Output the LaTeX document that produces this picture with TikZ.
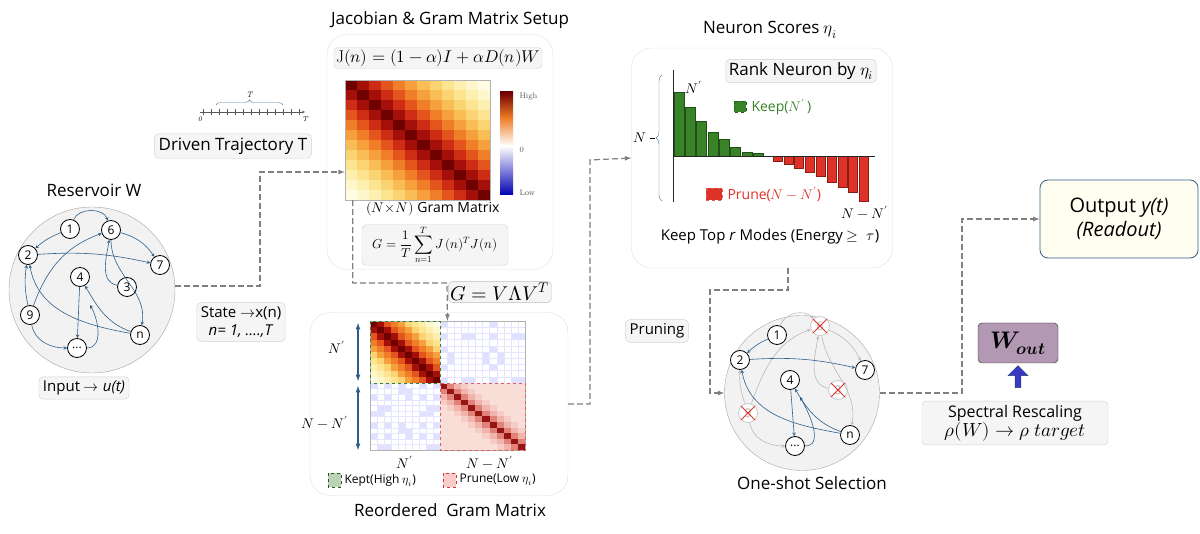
\documentclass[tikz,border=0pt]{standalone}
\usepackage{amsmath}
\usepackage{fontspec}
\usepackage{unicode-math}
\setmathfont{Latin Modern Math}
\setsansfont{Open Sans}
\renewcommand{\familydefault}{\sfdefault}
\usetikzlibrary{positioning,decorations.pathreplacing,shapes.arrows}
\definecolor{synblue}{RGB}{46,95,138}
\definecolor{keepgreen}{RGB}{56,130,40}
\definecolor{prunered}{RGB}{222,50,40}
\definecolor{hm0}{RGB}{110,0,0}
\definecolor{hm1}{RGB}{165,15,10}
\definecolor{hm2}{RGB}{205,45,20}
\definecolor{hm3}{RGB}{228,85,30}
\definecolor{hm4}{RGB}{240,125,40}
\definecolor{hm5}{RGB}{245,160,60}
\definecolor{hm6}{RGB}{248,190,85}
\definecolor{hm7}{RGB}{250,212,115}
\definecolor{hm8}{RGB}{252,228,145}
\definecolor{hm9}{RGB}{253,239,175}
\definecolor{hm10}{RGB}{254,246,205}
\definecolor{hm11}{RGB}{255,251,228}
\definecolor{pk0}{RGB}{150,20,20}
\definecolor{pk1}{RGB}{225,130,120}
\definecolor{pk2}{RGB}{240,180,172}
\definecolor{pk3}{RGB}{246,205,198}
\definecolor{pk4}{RGB}{249,222,216}
\tikzset{
  panel/.style={draw=gray!25,rounded corners=20pt,fill=white},
  tag/.style={draw=gray!35,fill=gray!8,rounded corners=4pt,inner sep=4pt,align=center},
  title/.style={font=\fontsize{17}{20}\selectfont},
  neuron/.style={circle,draw,fill=white,thick,inner sep=0pt,minimum size=19pt,font=\fontsize{12}{12}\selectfont},
  gone/.style={neuron,draw=gray!40,text=gray!60},
  syn/.style={->,>=stealth,draw=synblue,semithick},
  dead/.style={->,>=stealth,draw=gray!55,semithick},
  flow/.style={->,>=latex,draw=gray,dashed,very thick,dash pattern=on 6pt off 3pt},
  lbl/.style={font=\rmfamily\itshape\fontsize{14}{14}\selectfont},
}
\newcommand{\crossout}[1]{\draw[prunered,thick] ([shift={(-7pt,-7pt)}]#1.center) -- ([shift={(7pt,7pt)}]#1.center)
  ([shift={(-7pt,7pt)}]#1.center) -- ([shift={(7pt,-7pt)}]#1.center);}
\begin{document}
\begin{tikzpicture}[x=1pt,y=-1pt]
\useasboundingbox (0,0) rectangle (1200,534);

% ---- reservoir
\node[title] at (94,190) {Reservoir W};
\node (res) [circle,draw=gray!70,fill=gray!10,minimum size=166pt] at (92,290) {};
\node (r1) [neuron] at (70,229) {1};
\node (r6) [neuron] at (111,230) {6};
\node (r2) [neuron] at (28,255) {2};
\node (r7) [neuron] at (160,265) {7};
\node (r4) [neuron] at (80,277) {4};
\node (r3) [neuron] at (127,287) {3};
\node (r9) [neuron] at (30,315) {9};
\node (rn) [neuron] at (140,335) {n};
\node (rd) [neuron] at (77,348) {...};
\draw[syn] (r1) to[bend left=70] (r6);
\draw[syn] (r1) to[bend right=10] (r2);
\draw[syn] (r6) to[bend left=20] (r7);
\draw[syn] (r2) to[bend left=8] (r7);
\draw[syn] (r9) to[bend left=10] (r2);
\draw[syn] (r9) to[out=70,in=200] (r6);
\draw[syn] (r3) to[out=170,in=260] (r6);
\draw[syn] (r6) to[out=270,in=80] (rn);
\draw[syn] (rn) to[out=160,in=300] (r4);
\draw[syn] (rn) to[out=170,in=280] (r2);
\draw[syn] (r4) -- (rd);
\draw[syn] (r9) to[out=280,in=180] (rd);
\draw[syn] (rd.east) to[out=0,in=300] (90,305);
\node[tag,font=\fontsize{15}{18}\selectfont] at (84,388) {Input $\rightarrow$ \textit{u(t)}};
\node[tag,font=\fontsize{15}{18}\selectfont] at (241,322) {State $\rightarrow$x(n)\\\textit{n= 1, \dots.,T}};

% ---- driven trajectory
\draw[->,>=stealth,gray!70!black,thin] (200,112) coordinate (t0) -- (305,112) coordinate (tT);
\foreach \k in {0,...,12} \draw[gray!70!black,thin] (203+\k*8,109) -- (203+\k*8,115);
\draw[decorate,decoration={brace,amplitude=5pt},synblue!80,thin] (216,105) -- (283,105) node[midway,above=4pt,lbl,font=\rmfamily\itshape\fontsize{8}{8}\selectfont,black] {T};
\node[below=1pt of t0,font=\rmfamily\itshape\fontsize{7}{7}\selectfont] {0};
\node[below=1pt of tT,font=\rmfamily\itshape\fontsize{7}{7}\selectfont] {T};
\node[tag,title] at (233,146) {Driven Trajectory T};

% ---- jacobian panel
\node[title] at (450,20) {Jacobian \& Gram Matrix Setup};
\node (jac) [panel,minimum width=226pt,minimum height=235pt] at (440,152) {};
\node[tag,minimum width=197pt,font=\fontsize{17}{19}\selectfont,inner sep=2pt] at (438,58) {$\mathrm{J}(n)=(1-\alpha)I+\alpha D(n)W$};
\foreach \i in {0,...,11} \foreach \j in {0,...,11} {
  \pgfmathtruncatemacro\d{abs(\i-\j)}
  \fill[hm\d] (345+\i*12.08,80+\j*10) rectangle ++(12.08,10);
}
\node (heat) [draw=gray!60,minimum width=145pt,minimum height=120pt,inner sep=0pt] at (417.5,140) {};
\shade[top color=hm0,bottom color=hm4] (500,92) rectangle (513,118);
\shade[top color=hm4,bottom color=white] (500,118) rectangle (513,146);
\shade[top color=white,bottom color=blue!70!black] (500,146) rectangle (513,195);
\node[anchor=west,font=\rmfamily\fontsize{8}{8}\selectfont,gray!70!black] at (516,97) {High};
\node[anchor=west,font=\rmfamily\fontsize{8}{8}\selectfont,gray!70!black] at (516,150) {0};
\node[anchor=west,font=\rmfamily\fontsize{8}{8}\selectfont,gray!70!black] at (516,193) {Low};
\node[font=\fontsize{14}{15}\selectfont] at (433,209) {$(N{\times}N)$ Gram Matrix};
\node[tag,minimum width=146pt,font=\fontsize{13}{14}\selectfont,inner sep=1pt] at (435,245) {$G=\dfrac{1}{T}\displaystyle\sum_{n=1}^{T}J\,(n)^{T}J(n)$};
\node[tag,font=\fontsize{20}{22}\selectfont,inner sep=2pt,draw=gray!50] at (500,292) {$G=V\Lambda V^{T}$};

% ---- reordered gram matrix
\node (reop) [panel,minimum width=258pt,minimum height=183pt] at (439,404) {};
\foreach \i in {0,...,9} \foreach \j in {0,...,9} {
  \pgfmathtruncatemacro\d{min(11,round(abs(\i-\j)*1.3))}
  \fill[hm\d] (370+\i*7,321+\j*6.2) rectangle ++(7,6.2);
}
\foreach \i in {0,...,11} \foreach \j in {0,...,11} {
  \pgfmathtruncatemacro\d{min(4,abs(\i-\j))}
  \fill[pk\d] (440+\i*7.08,383+\j*5.58) rectangle ++(7.08,5.58);
}
\foreach \i in {0,...,11} \foreach \j in {0,...,9} {
  \pgfmathtruncatemacro\m{mod(\i*\i*3+\j*\j*5+\i*\j*7+\j,7)}
  \ifnum\m<2 \fill[blue!12] (440+\i*7.08,321+\j*6.2) rectangle ++(7.08,6.2);\fi
  \draw[blue!10,very thin] (440+\i*7.08,321+\j*6.2) rectangle ++(7.08,6.2);
}
\foreach \i in {0,...,9} \foreach \j in {0,...,11} {
  \pgfmathtruncatemacro\m{mod(\i*\i*5+\j*\j*2+\i*\j*3+\i,7)}
  \ifnum\m<2 \fill[blue!12] (370+\i*7,383+\j*5.58) rectangle ++(7,5.58);\fi
  \draw[blue!10,very thin] (370+\i*7,383+\j*5.58) rectangle ++(7,5.58);
}
\node (reo) [draw=gray!60,minimum width=155pt,minimum height=129pt,inner sep=0pt] at (447.5,385.5) {};
\draw[keepgreen,dashed,thick] (370,321) rectangle (440,383);
\draw[prunered!80,dashed,thick] (440,383) rectangle (525,450);
\draw[<->,>=latex,synblue,very thick] (358,323) -- (358,381);
\draw[<->,>=latex,synblue,very thick] (358,386) -- (358,450);
\node[lbl] at (337,347) {$N'$};
\node[lbl] at (325,422) {$N-N'$};
\node[lbl] at (405,462) {$N'$};
\node[lbl] at (490,462) {$N-N'$};
\draw[keepgreen!70!black,dashed,fill=keepgreen!35] (328,473) rectangle (341,487);
\node[anchor=west,font=\fontsize{12}{13}\selectfont] at (341,480) {Kept(High $\eta_i$)};
\draw[prunered,dashed,fill=prunered!25] (443,473) rectangle (456,487);
\node[anchor=west,font=\fontsize{12}{13}\selectfont] at (456,480) {Prune(Low $\eta_i$)};
\node[title] at (450,510) {Reordered\ \ Gram Matrix};

% ---- neuron scores
\node[title] at (770,30) {Neuron Scores $\eta_i$};
\node (score) [panel,minimum width=261pt,minimum height=220pt] at (762,158) {};
\node[tag,title,inner sep=3pt] at (801,71) {Rank Neuron by $\eta_i$};
\foreach \t [count=\k from 0] in {92,107,121,132,139,147,152}
  \draw[keepgreen!60!black,fill=keepgreen] (674+\k*11.3,\t) rectangle ++(10,156-\t);
\draw[keepgreen!60!black,fill=keepgreen] (753,153) rectangle (763,156);
\foreach \t [count=\k from 0] in {161,164,168,172,176,182,187,192,201}
  \draw[prunered!60!black,fill=prunered] (773+\k*10.8,156) rectangle ++(9,\t-156);
\draw[thick,gray!30!black] (673,70) coordinate (ax) -- (673,202);
\draw[thick,gray!30!black] (673,156) -- (875,156);
\draw[decorate,decoration={brace,amplitude=6pt},synblue!80] (662,201) -- (662,75);
\draw (650,138) -- (655,138);
\node[lbl] at (640,138) {$N$};
\node[lbl] at (694,87) {$N'$};
\draw[keepgreen!70!black,dashed,fill=keepgreen] (734,101) rectangle (746,112);
\node[anchor=west,keepgreen,font=\fontsize{14}{15}\selectfont] at (748,107) {Keep($N'$\,)};
\draw[prunered!80,dashed,fill=prunered] (706,188) rectangle (722,200);
\node[anchor=west,prunered,font=\fontsize{14}{15}\selectfont] at (724,194) {Prune($N-N'$)};
\node[lbl] at (865,212) {$N-N'$};
\node[font=\fontsize{15}{17}\selectfont] at (770,237) {Keep Top \textit{r} Modes (Energy $\geq\ \tau$)};

% ---- one-shot selection
\node[tag,font=\fontsize{15}{17}\selectfont] at (657,331) {Pruning};
\node (sel) [circle,draw=gray!70,fill=gray!10,minimum size=155pt] at (802,393) {};
\node (s1) [neuron] at (777,335) {1};
\node (s6) [gone] at (820,326) {6};
\node (s2) [neuron] at (740,360) {2};
\node (s7) [neuron] at (865,370) {7};
\node (s4) [neuron] at (790,380) {4};
\node (s3) [gone] at (838,390) {3};
\node (s9) [gone] at (748,413) {9};
\node (sn) [neuron] at (850,435) {n};
\node (sd) [neuron] at (795,446) {...};
\draw[dead] (s1) to[bend left=60] (s6);
\draw[dead] (s6) to[bend left=20] (s7);
\draw[dead] (s9) to[bend left=10] (s2);
\draw[dead] (s9) to[out=70,in=200] (s6);
\draw[dead] (s3) to[out=170,in=260] (s6);
\draw[dead] (s6) to[out=280,in=80] (sn);
\draw[dead] (s9) to[out=280,in=180] (sd);
\draw[syn] (s1) to[bend right=10] (s2);
\draw[syn] (s2) to[bend left=8] (s7);
\draw[syn] (sn) to[out=160,in=300] (s4);
\draw[syn] (sn) to[out=170,in=280] (s2);
\draw[syn] (s4) -- (sd);
\draw[syn] (sd.east) to[out=0,in=300] (800,397);
\crossout{s6}
\crossout{s3}
\crossout{s9}
\node[title] at (812,483) {One-shot Selection};

% ---- readout
\node (out) [draw=synblue,thick,fill=yellow!6,rounded corners=8pt,minimum width=158pt,minimum height=78pt,align=center,font=\fontsize{20}{24}\selectfont] at (1119,219) {Output \textit{y(t)}\\\textit{(Readout)}};
\node (wout) [draw=gray!30!black,fill=violet!35!gray!60,rounded corners=4pt,minimum width=80pt,minimum height=40pt,font=\fontsize{24}{24}\selectfont] at (1018,343) {$\symbfit{W}_{\symbfit{out}}$};
\node (spec) [tag,font=\fontsize{16}{19}\selectfont,minimum width=186pt] at (1015,423) {Spectral Rescaling\\{\fontsize{19}{21}\selectfont$\rho(W)\rightarrow\rho\ target$}};
\node [single arrow,draw=synblue!70!black,fill=blue!55!gray,rotate=90,minimum height=22pt,minimum width=20pt,single arrow head extend=3pt,inner sep=1pt] at (1018,378) {};

% ---- flow connectors
\draw[flow] ([yshift=4pt]res.east) -- (260,286) |- ([yshift=-32pt]heat.west);
\draw[flow] ([xshift=8pt]heat.south west) |- (447,283) -- (reo.north);
\draw[flow] (reop.east) -| (590,160) -- (score.west);
\coordinate (bend) at (710,290);
\draw[flow] ([xshift=26pt]score.south) |- (bend) |- (sel.west);
\draw[flow] (sel.east) -| (962,219) -- (out.west);
\end{tikzpicture}
\end{document}
